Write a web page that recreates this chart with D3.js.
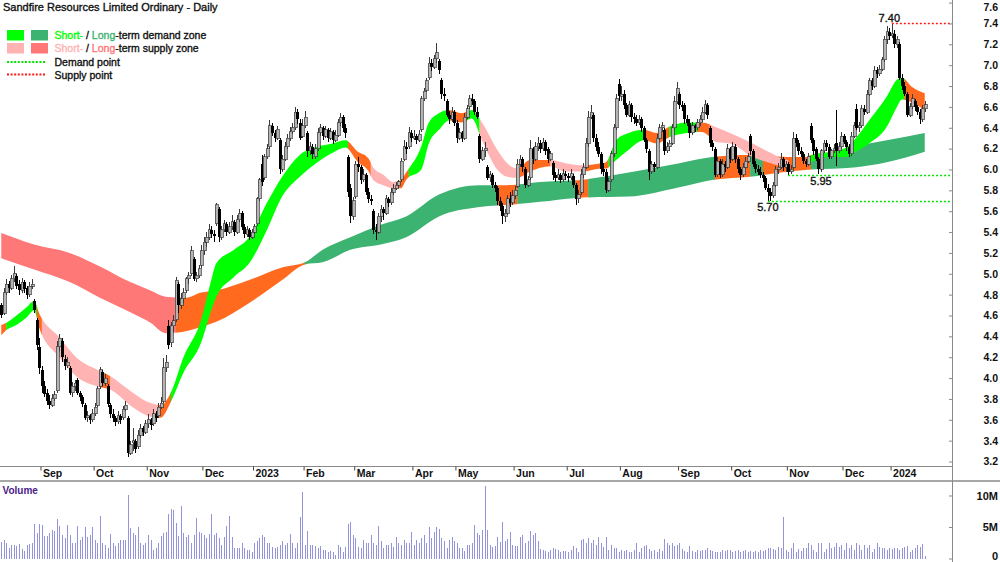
<!DOCTYPE html>
<html><head><meta charset="utf-8">
<script src="https://cdn.jsdelivr.net/npm/d3@7"></script>
<style>
html,body{margin:0;padding:0;background:#fff;}
svg{display:block;font-family:"Liberation Sans",Arial,Helvetica,sans-serif;}
.emb{stroke-width:0.35px;paint-order:stroke;}
</style>
</head><body>
<svg id="chart" width="1000" height="562"></svg>
<script>
// ---------------- DATA ----------------
const title = "Sandfire Resources Limited Ordinary - Daily";
const firstDay = "2022-08-10", lastDay = "2024-01-19";
const holidays = ["2022-09-22","2022-12-26","2022-12-27","2023-01-02","2023-01-26","2023-04-07","2023-04-10","2023-04-25","2023-06-12","2023-12-25","2023-12-26","2024-01-01"];

const open = [
4.70,4.62,4.82,4.90,4.86,4.95,4.98,4.90,4.84,4.92, 4.86,4.80,4.88,4.74,4.56,4.30,4.08,3.92,3.86,3.78,
3.74,3.80,3.88,4.30,4.36,4.18,4.12,4.10,3.86,3.92, 3.98,3.86,3.82,3.74,3.62,3.64,3.60,3.66,3.74,3.92,
4.06,3.95,3.92,3.74,3.66,3.62,3.58,3.64,3.62,3.70, 3.62,3.28,3.38,3.40,3.34,3.45,3.52,3.48,3.56,3.60,
3.56,3.66,3.64,3.72,3.78,4.10,4.50,4.34,4.50,4.56, 4.90,4.70,4.76,4.84,4.95,5.00,5.14,4.95,4.98,5.08,
5.22,5.30,5.35,5.42,5.38,5.48,5.62,5.35,5.42,5.48, 5.40,5.45,5.50,5.40,5.52,5.58,5.45,5.38,5.42,5.35,
5.40,5.48,5.72,6.05,5.92,6.12,6.22,6.42,6.35,6.30, 6.28,6.00,6.10,6.22,6.30,6.36,6.40,6.55,6.45,6.32,
6.42,6.35,6.18,6.22,6.12,6.20,6.35,6.40,6.32,6.38, 6.30,6.36,6.28,6.33,6.45,6.50,6.40,6.12,5.82,5.55,
5.74,6.05,6.02,5.90,5.95,5.78,5.72,5.60,5.42,5.40, 5.55,5.62,5.58,5.72,5.68,5.78,5.82,5.85,5.90,6.10,
6.22,6.22,6.35,6.30,6.32,6.28,6.38,6.68,6.76,6.88, 7.02,6.98,7.06,7.04,6.86,6.72,6.66,6.52,6.48,6.55,
6.45,6.30,6.35,6.30,6.50,6.60,6.68,6.66,6.55,6.32, 6.10,6.18,6.02,5.92,5.95,5.85,5.82,5.70,5.65,5.55,
5.58,5.72,5.68,5.75,5.84,6.05,6.10,6.00,5.85,5.92, 6.20,6.10,6.22,6.25,6.20,6.26,6.20,6.10,6.06,5.95,
5.92,5.95,5.90,5.96,5.94,5.92,5.94,5.85,5.72,5.78, 5.95,6.02,6.25,6.50,6.52,6.30,6.22,6.15,6.00,5.98,
5.80,5.90,6.15,6.40,6.82,6.70,6.72,6.62,6.52,6.62, 6.50,6.48,6.45,6.48,6.40,6.28,6.18,5.98,6.05,6.02,
6.30,6.40,6.38,6.18,6.22,6.25,6.40,6.65,6.72,6.62, 6.62,6.48,6.45,6.35,6.42,6.40,6.45,6.48,6.55,6.62,
6.40,6.25,6.20,5.95,6.08,5.95,6.05,6.02,6.20,6.10, 6.22,6.10,6.00,5.95,6.02,6.08,6.32,6.18,6.05,6.00,
5.98,5.95,5.92,5.82,5.78,5.75,5.85,6.00,6.02,6.10, 6.02,6.05,5.98,6.02,6.30,6.25,6.18,6.15,6.08,6.05,
6.42,6.28,6.20,6.10,6.00,6.18,6.25,6.22,6.12,6.18, 6.25,6.18,6.22,6.32,6.26,6.22,6.15,6.32,6.58,6.40,
6.42,6.58,6.55,6.72,6.85,6.80,6.95,6.92,6.96,7.05, 7.25,7.32,7.28,7.30,7.20,7.20,6.88,6.80,6.72,6.52,
6.60,6.66,6.60,6.55,6.48,6.58];
const high = [
4.72,4.86,4.95,4.93,4.99,5.07,5.00,4.94,4.96,4.94, 4.88,4.92,4.95,4.76,4.58,4.38,4.12,3.97,3.90,3.84,
3.85,3.88,4.36,4.42,4.38,4.22,4.20,4.12,3.96,3.98, 4.00,3.88,3.84,3.76,3.68,3.66,3.70,3.76,3.92,4.11,
4.08,4.04,3.94,3.76,3.70,3.64,3.68,3.66,3.73,3.78, 3.64,3.40,3.52,3.42,3.50,3.56,3.54,3.60,3.66,3.62,
3.70,3.68,3.76,3.82,4.19,4.22,4.56,4.54,4.60,4.97, 4.92,4.82,4.86,4.97,5.02,5.27,5.16,5.02,5.08,5.28,
5.35,5.40,5.48,5.46,5.42,5.68,5.64,5.46,5.52,5.50, 5.50,5.56,5.52,5.56,5.62,5.60,5.48,5.46,5.44,5.43,
5.48,5.74,5.92,6.14,6.15,6.24,6.47,6.45,6.38,6.42, 6.30,6.14,6.26,6.34,6.41,6.45,6.60,6.58,6.48,6.48,
6.56,6.37,6.26,6.24,6.24,6.40,6.44,6.42,6.42,6.40, 6.40,6.38,6.38,6.48,6.54,6.52,6.44,6.14,5.86,5.74,
6.08,6.12,6.04,6.00,5.97,5.82,5.76,5.62,5.48,5.58, 5.66,5.64,5.76,5.74,5.82,5.86,5.88,5.90,6.11,6.28,
6.26,6.41,6.38,6.38,6.34,6.38,6.70,6.78,6.88,7.08, 7.06,7.10,7.21,7.06,6.88,6.78,6.68,6.56,6.60,6.57,
6.47,6.40,6.37,6.54,6.62,6.71,6.72,6.68,6.60,6.34, 6.22,6.26,6.04,5.99,5.97,5.88,5.84,5.74,5.68,5.62,
5.76,5.78,5.80,5.84,6.10,6.14,6.12,6.02,5.94,6.28, 6.22,6.26,6.31,6.28,6.30,6.28,6.22,6.18,6.08,5.98,
6.00,5.97,6.00,5.99,5.97,6.00,5.96,5.87,5.80,6.00, 6.06,6.30,6.56,6.62,6.54,6.34,6.26,6.17,6.06,6.00,
5.92,6.18,6.44,6.72,6.87,6.80,6.76,6.64,6.66,6.64, 6.54,6.52,6.52,6.50,6.42,6.30,6.20,6.08,6.07,6.34,
6.44,6.46,6.40,6.26,6.28,6.44,6.70,6.84,6.74,6.66, 6.64,6.52,6.48,6.46,6.44,6.48,6.52,6.60,6.67,6.64,
6.42,6.28,6.22,6.12,6.10,6.10,6.08,6.24,6.22,6.26, 6.24,6.12,6.02,6.06,6.12,6.16,6.34,6.20,6.08,6.04,
6.02,5.98,5.94,5.86,5.82,5.88,6.03,6.06,6.16,6.12, 6.08,6.07,6.04,6.36,6.34,6.28,6.22,6.17,6.10,6.16,
6.45,6.30,6.22,6.12,6.20,6.28,6.28,6.24,6.20,6.24, 6.57,6.26,6.36,6.34,6.28,6.24,6.36,6.46,6.63,6.46,
6.62,6.62,6.76,6.88,6.88,6.99,6.98,7.00,7.08,7.28, 7.38,7.36,7.40,7.34,7.28,7.22,6.92,6.84,6.74,6.64,
6.72,6.68,6.62,6.58,6.62,6.66];
const low = [
4.58,4.60,4.80,4.82,4.84,4.92,4.85,4.80,4.82,4.82, 4.76,4.78,4.85,4.62,4.27,4.04,3.86,3.82,3.74,3.70,
3.72,3.78,3.86,4.26,4.15,4.08,4.10,3.84,3.82,3.88, 3.84,3.78,3.72,3.60,3.58,3.56,3.58,3.64,3.72,3.90,
3.92,3.92,3.72,3.62,3.58,3.54,3.56,3.56,3.60,3.68, 3.24,3.26,3.30,3.28,3.32,3.43,3.44,3.46,3.52,3.50,
3.54,3.58,3.62,3.70,3.76,4.06,4.28,4.30,4.44,4.54, 4.62,4.66,4.72,4.82,4.90,4.98,4.93,4.92,4.96,5.06,
5.18,5.26,5.32,5.34,5.30,5.46,5.30,5.32,5.40,5.36, 5.38,5.42,5.36,5.38,5.50,5.42,5.34,5.35,5.32,5.33,
5.38,5.46,5.70,5.84,5.90,6.10,6.20,6.32,6.26,6.28, 5.96,5.98,6.08,6.20,6.27,6.34,6.38,6.44,6.28,6.30,
6.40,6.12,6.14,6.10,6.10,6.18,6.32,6.28,6.30,6.26, 6.28,6.24,6.26,6.31,6.42,6.36,6.30,5.74,5.49,5.52,
5.72,5.98,5.86,5.88,5.76,5.68,5.66,5.38,5.32,5.38, 5.50,5.52,5.56,5.64,5.66,5.76,5.80,5.82,5.88,6.08,
6.15,6.20,6.26,6.28,6.24,6.26,6.36,6.66,6.74,6.86, 6.94,6.96,7.02,6.92,6.68,6.66,6.50,6.44,6.46,6.42,
6.25,6.28,6.26,6.28,6.48,6.58,6.62,6.52,6.48,6.06, 6.08,6.12,5.90,5.88,5.82,5.78,5.66,5.60,5.48,5.50,
5.56,5.64,5.66,5.72,5.82,6.02,5.98,5.82,5.83,5.90, 6.05,6.08,6.18,6.16,6.18,6.14,6.06,6.08,5.90,5.88,
5.90,5.87,5.88,5.90,5.88,5.90,5.82,5.66,5.68,5.76, 5.92,6.00,6.22,6.48,6.26,6.18,6.12,5.96,5.94,5.77,
5.78,5.88,6.12,6.38,6.66,6.66,6.58,6.50,6.50,6.46, 6.44,6.42,6.43,6.36,6.26,6.16,5.90,5.96,5.98,6.00,
6.28,6.36,6.14,6.16,6.18,6.23,6.38,6.63,6.58,6.56, 6.44,6.42,6.30,6.33,6.36,6.38,6.42,6.46,6.53,6.48,
6.22,6.18,5.93,5.93,5.92,5.93,5.98,6.00,6.06,6.08, 6.06,5.97,5.90,5.93,6.00,6.06,6.14,6.02,5.97,5.95,
5.92,5.88,5.80,5.70,5.70,5.73,5.83,5.96,6.00,5.99, 5.98,5.95,5.96,6.00,6.22,6.14,6.12,6.05,6.02,6.03,
6.25,6.14,6.08,5.96,5.98,6.16,6.18,6.10,6.10,6.16, 6.03,6.16,6.20,6.24,6.18,6.12,6.13,6.30,6.38,6.36,
6.40,6.52,6.53,6.70,6.76,6.78,6.88,6.90,6.94,7.03, 7.20,7.24,7.26,7.16,7.16,6.86,6.76,6.70,6.50,6.50,
6.58,6.56,6.52,6.44,6.46,6.55];
const close = [
4.60,4.82,4.90,4.86,4.95,5.00,4.88,4.84,4.92,4.85, 4.80,4.88,4.90,4.65,4.32,4.10,3.92,3.85,3.78,3.74,
3.80,3.84,4.30,4.38,4.20,4.12,4.15,3.86,3.92,3.95, 3.86,3.82,3.75,3.62,3.64,3.60,3.66,3.72,3.90,4.08,
3.95,4.00,3.75,3.66,3.62,3.58,3.64,3.60,3.70,3.74, 3.28,3.36,3.40,3.32,3.45,3.52,3.48,3.56,3.60,3.55,
3.66,3.62,3.72,3.76,4.10,4.15,4.32,4.50,4.55,4.94, 4.70,4.76,4.82,4.95,4.98,5.22,4.95,4.98,5.05,5.22,
5.30,5.35,5.42,5.38,5.36,5.66,5.35,5.42,5.48,5.40, 5.45,5.50,5.40,5.52,5.58,5.45,5.38,5.42,5.35,5.40,
5.45,5.72,5.90,5.88,6.12,6.20,6.42,6.35,6.30,6.38, 6.00,6.10,6.22,6.30,6.36,6.40,6.55,6.48,6.30,6.42,
6.50,6.18,6.22,6.15,6.20,6.35,6.40,6.32,6.38,6.30, 6.36,6.28,6.33,6.45,6.50,6.40,6.35,5.78,5.55,5.70,
6.05,6.02,5.90,5.95,5.78,5.72,5.70,5.42,5.40,5.55, 5.62,5.58,5.72,5.68,5.78,5.82,5.85,5.88,6.08,6.22,
6.20,6.35,6.30,6.32,6.28,6.34,6.68,6.75,6.85,7.02, 6.98,7.06,7.12,6.95,6.72,6.70,6.52,6.48,6.55,6.45,
6.30,6.35,6.30,6.50,6.58,6.68,6.66,6.55,6.50,6.10, 6.18,6.20,5.92,5.95,5.85,5.82,5.70,5.65,5.55,5.58,
5.72,5.68,5.75,5.80,6.05,6.10,6.02,5.85,5.90,6.20, 6.10,6.22,6.25,6.20,6.26,6.18,6.10,6.15,5.95,5.92,
5.95,5.90,5.96,5.94,5.92,5.96,5.85,5.72,5.76,5.95, 6.02,6.25,6.50,6.55,6.30,6.22,6.15,6.00,5.98,5.80,
5.88,6.15,6.40,6.68,6.70,6.72,6.62,6.52,6.62,6.50, 6.48,6.45,6.48,6.40,6.28,6.20,5.98,6.05,6.02,6.30,
6.40,6.42,6.18,6.22,6.25,6.40,6.65,6.78,6.62,6.60, 6.48,6.45,6.35,6.42,6.40,6.45,6.48,6.55,6.62,6.52,
6.25,6.22,5.95,6.08,5.95,6.05,6.02,6.20,6.10,6.22, 6.10,6.00,5.95,6.02,6.08,6.12,6.18,6.05,6.00,5.98,
5.95,5.92,5.82,5.78,5.75,5.85,6.00,6.02,6.10,6.02, 6.05,5.98,6.00,6.30,6.25,6.18,6.15,6.08,6.05,6.12,
6.28,6.18,6.10,6.00,6.18,6.25,6.22,6.12,6.18,6.20, 6.18,6.22,6.32,6.26,6.22,6.15,6.32,6.42,6.40,6.42,
6.58,6.55,6.72,6.85,6.80,6.95,6.92,6.96,7.05,7.25, 7.32,7.28,7.30,7.20,7.25,6.88,6.80,6.72,6.52,6.60,
6.68,6.60,6.55,6.48,6.58,6.62];
// volume in millions of shares
const volume = [
2.6,3.0,2.4,1.6,2.1,2.2,2.0,2.3,1.5,1.2, 2.1,2.3,2.5,5.4,4.1,5.5,5.3,3.6,3.5,4.1,
4.5,4.3,6.3,5.1,3.7,3.2,5.3,3.8,2.4,2.4, 5.2,2.9,3.4,5.0,3.4,3.7,5.0,2.9,2.5,6.8,
2.5,2.1,1.6,3.9,2.4,2.0,2.4,2.9,2.9,2.9, 10.0,4.9,4.1,3.8,5.0,2.5,2.1,2.4,3.7,2.9,
1.3,1.7,2.4,3.5,4.1,4.2,7.1,7.8,7.7,5.6, 3.5,8.3,4.1,3.4,3.7,2.4,3.7,6.5,4.2,4.0,
3.7,3.3,3.9,7.1,3.7,4.0,3.3,2.2,3.4,5.2, 6.7,3.4,1.7,1.7,1.7,2.5,1.6,1.4,1.3,1.1,
2.4,2.8,3.2,3.7,3.4,2.4,2.4,1.8,1.7,1.8, 2.1,2.8,2.1,2.4,3.9,2.5,1.7,2.4,6.6,10.6,
2.1,4.3,2.2,2.1,2.0,1.6,2.0,1.3,1.3,1.1, 1.2,1.1,0.6,2.1,1.8,1.1,1.8,5.4,5.8,3.7,
3.2,1.8,1.6,3.0,2.5,2.4,3.8,2.5,2.2,5.1, 2.7,1.6,2.1,2.1,2.4,1.8,3.4,2.5,2.1,2.9,
2.5,2.4,4.2,2.1,2.9,2.5,3.3,3.7,2.5,5.0, 3.2,4.2,5.0,4.7,3.2,2.8,1.6,2.9,3.4,2.8,
2.4,1.7,1.6,1.2,2.2,2.1,2.5,5.3,4.0,3.7, 4.6,11.5,4.6,2.2,1.8,2.0,3.4,2.6,5.8,2.8,
3.1,4.2,2.2,2.0,2.0,3.4,3.8,2.4,2.8,4.3, 3.7,4.0,2.8,1.5,1.3,1.2,1.1,1.4,1.6,1.5,
1.3,1.1,1.2,1.2,1.1,1.3,2.0,1.7,1.1,2.9, 3.1,2.5,3.3,2.5,2.9,2.2,3.4,2.5,1.8,3.4,
1.3,2.1,1.7,1.7,1.1,1.3,1.2,1.3,1.1,1.1, 1.3,2.4,1.1,1.6,2.0,2.2,1.5,1.2,1.3,1.1,
1.5,1.2,3.1,2.4,2.2,2.5,2.0,2.2,2.4,1.5, 1.2,1.0,2.0,1.2,1.1,1.3,1.2,1.3,1.3,1.6,
1.3,1.2,1.1,1.0,1.1,1.3,1.2,1.3,1.3,1.1, 1.2,1.3,1.1,1.2,1.3,1.1,1.2,1.1,1.2,1.1,
1.3,1.2,1.3,1.6,1.7,1.5,1.3,1.8,1.6,6.6, 1.3,1.1,1.6,2.4,1.1,1.5,1.2,1.6,1.7,2.4,
2.2,1.3,1.1,2.5,2.4,1.1,1.5,2.4,1.6,1.8, 2.5,1.8,2.2,1.3,2.5,1.6,2.1,1.3,2.4,2.1,
1.3,2.2,1.7,2.1,1.1,1.5,2.5,1.8,1.7,1.6, 1.3,1.7,1.5,1.6,1.6,1.3,1.7,1.8,2.0,1.1,
1.3,1.6,2.1,1.8,2.3,0.4];

// Long-term zone (sampled, trading-day index) and its colour states
const longIdx = [0,13,27,39,51,59,65,73,79,85,98,111,120,127,138,150,160,173,189,200,213,229,248,268,281,296,311,320,337,350,365];
const longHi  = [5.39,5.28,5.20,5.07,4.92,4.84,4.78,4.77,4.82,4.84,4.94,5.06,5.11,5.23,5.35,5.47,5.55,5.76,5.85,5.85,5.88,5.90,5.97,6.06,6.12,6.14,6.12,6.12,6.22,6.28,6.35];
const longLo  = [5.15,5.04,4.92,4.77,4.63,4.53,4.43,4.45,4.49,4.54,4.72,4.94,5.09,5.11,5.23,5.28,5.35,5.55,5.64,5.66,5.69,5.73,5.74,5.83,5.90,5.93,5.98,6.00,6.02,6.07,6.17];
const longSegStart = [0,69,120,196,204,227,232,282,296,301,320];
const longSegState = ["supply","neutral","demand","neutral","demand","neutral","demand","neutral","demand","neutral","demand"];

// Short-term zone
const shortIdx = [0,2,6,10,13,15,23,30,38,43,52,59,63,67,72,79,83,85,92,98,105,111,118,125,131,136,141,145,147,151,155,158,160,166,169,173,177,182,186,190,196,200,204,209,217,223,230,237,239,243,248,254,259,264,271,277,283,288,297,304,311,316,320,328,334,337,343,350,354,356,360,365];
const shortHi = [4.51,4.53,4.60,4.68,4.74,4.62,4.39,4.19,4.08,4.02,3.86,3.76,3.74,3.86,4.20,4.56,4.94,5.10,5.23,5.35,5.68,5.93,6.14,6.22,6.25,6.28,6.17,6.11,6.02,5.95,5.88,5.90,5.97,6.22,6.45,6.54,6.57,6.54,6.57,6.45,6.19,6.06,6.01,6.09,6.09,6.06,6.04,6.06,6.07,6.28,6.35,6.38,6.35,6.41,6.45,6.45,6.40,6.35,6.25,6.16,6.09,6.09,6.14,6.17,6.21,6.28,6.47,6.70,6.86,6.88,6.79,6.73];
const shortLo = [4.41,4.46,4.51,4.58,4.65,4.48,4.20,4.01,3.92,3.89,3.72,3.63,3.62,3.77,4.05,4.34,4.65,4.78,4.97,5.10,5.42,5.74,5.93,6.07,6.16,6.21,6.07,5.99,5.90,5.85,5.82,5.82,5.90,6.00,6.25,6.38,6.47,6.45,6.49,6.28,6.00,5.93,5.92,5.98,6.03,5.98,5.98,6.01,6.01,6.09,6.19,6.28,6.25,6.31,6.35,6.36,6.26,6.25,6.12,6.06,6.02,6.01,6.07,6.12,6.12,6.16,6.25,6.41,6.60,6.67,6.64,6.57];
const shortSegStart = [0,2,14,16,39,43,62,67,137,146,157,161,177,184,189,205,217,231,240,254,264,275,280,311,320,357];
const shortSegState = ["neutral","demand","neutral","supply","neutral","supply","neutral","demand","neutral","supply","neutral","demand","neutral","demand","supply","neutral","supply","neutral","demand","neutral","demand","neutral","supply","neutral","demand","neutral"];

// Demand / supply points
const pointLevel = [7.40, 5.95, 5.70];
const pointType  = ["supply","demand","demand"];
const pointStart = [352, 311, 303];
const pointLabelAt = [351, 324, 303];

const priceTicks = [3.2,3.4,3.6,3.8,4.0,4.2,4.4,4.6,4.8,5.0,5.2,5.4,5.6,5.8,6.0,6.2,6.4,6.6,6.8,7.0,7.2,7.4,7.6];
const volumeTicks = [0,5,10];

// ---------------- STYLE ----------------
const C = {
  shortDemand:"#00ff00", longDemand:"#3cb371",
  shortSupply:"#ffb3b3", longSupply:"#ff7878",
  neutral:"#ff6a1e", demandPt:"#00e600", supplyPt:"#ff1a1a",
  axis:"#8a8a8a", vol:"#9494dc", volLabel:"#4b1a8a",
  up:"#b4b4b4", upStroke:"#3a3a3a", down:"#000000"
};

// ---------------- BUILD ----------------
const parse = d3.timeParse("%Y-%m-%d"), fmt = d3.timeFormat("%Y-%m-%d");
const dates = d3.timeDay.range(parse(firstDay), d3.timeDay.offset(parse(lastDay),1))
  .filter(d => d.getDay()>0 && d.getDay()<6 && !holidays.includes(fmt(d)));
const N = dates.length;

const svg = d3.select("#chart");
const W = 1000, H = 562, axisX = 952, priceBottom = 466.5, volTop = 481;

const x = d3.scaleLinear().domain([0, N]).range([0, 926]);
const cx = i => x(i + 0.5);
const y = d3.scaleLinear().domain([3.157, 7.625]).range([466, 0]);
const yv = d3.scaleLinear().domain([0, 12.3]).range([558.5, volTop]);

const defs = svg.append("defs");
defs.append("clipPath").attr("id","priceClip").append("rect")
  .attr("x",0).attr("y",0).attr("width",axisX).attr("height",priceBottom);

const pricePanel = svg.append("g").attr("clip-path","url(#priceClip)");

function drawZone(idx, hi, lo, segStart, segState, colors, name){
  const pts = idx.map((d,k)=>({i:d, hi:hi[k], lo:lo[k]}));
  const area = d3.area().x(d=>cx(d.i)).y0(d=>y(d.lo)).y1(d=>y(d.hi)).curve(d3.curveMonotoneX);
  segStart.forEach((s,k)=>{
    const e = k < segStart.length-1 ? segStart[k+1] : N-1;
    const x0 = k===0 ? 0 : cx(s);
    const x1 = k===segStart.length-1 ? axisX : cx(e);
    const id = name + "Clip" + k;
    defs.append("clipPath").attr("id", id).append("rect")
      .attr("x", x0).attr("y", 0).attr("width", Math.max(0, x1-x0)+0.3).attr("height", priceBottom);
    pricePanel.append("path").datum(pts)
      .attr("clip-path","url(#"+id+")")
      .attr("fill", colors[segState[k]])
      .attr("d", area);
  });
}
drawZone(longIdx, longHi, longLo, longSegStart, longSegState,
  {demand:C.longDemand, supply:C.longSupply, neutral:C.neutral}, "long");
drawZone(shortIdx, shortHi, shortLo, shortSegStart, shortSegState,
  {demand:C.shortDemand, supply:C.shortSupply, neutral:C.neutral}, "short");

// demand / supply point lines
pointLevel.forEach((lv,k)=>{
  const col = pointType[k]==="supply" ? C.supplyPt : C.demandPt;
  const yy = Math.round(y(lv))+0.5;
  svg.append("line")
    .attr("x1", cx(pointStart[k])).attr("x2", axisX)
    .attr("y1", yy).attr("y2", yy)
    .attr("stroke", col).attr("stroke-width",1.3).attr("stroke-dasharray","2,2");
  svg.append("text").attr("class","emb")
    .attr("x", cx(pointLabelAt[k]))
    .attr("y", pointType[k]==="supply" ? y(lv)-1.5 : y(lv)+10)
    .attr("text-anchor","middle").attr("font-size","11px").attr("fill","#111").attr("stroke","#111")
    .text(lv.toFixed(2));
});

// candles
const candles = pricePanel.append("g").attr("shape-rendering","crispEdges");
d3.range(N).forEach(i=>{
  const o=open[i], c=close[i], up = c>=o;
  const xc = Math.round(cx(i));
  candles.append("line")
    .attr("x1", xc+0.5).attr("x2", xc+0.5)
    .attr("y1", y(high[i])).attr("y2", y(low[i]))
    .attr("stroke", up ? C.upStroke : C.down).attr("stroke-width",1);
  const top = y(Math.max(o,c)), bot = y(Math.min(o,c));
  candles.append("rect")
    .attr("x", xc-1).attr("width", 3)
    .attr("y", top).attr("height", Math.max(1, bot-top))
    .attr("fill", up ? C.up : C.down)
    .attr("stroke", up ? C.upStroke : C.down).attr("stroke-width", up?0.7:0);
});

// volume bars
svg.append("g").attr("shape-rendering","crispEdges").selectAll("rect").data(volume).join("rect")
  .attr("x",(d,i)=>Math.round(cx(i))).attr("width",1)
  .attr("y",d=>yv(d)).attr("height",d=>yv(0)-yv(d))
  .attr("fill",C.vol);

// frame lines
svg.append("line").attr("x1",0).attr("x2",axisX).attr("y1",priceBottom).attr("y2",priceBottom)
  .attr("stroke",C.axis).attr("stroke-width",1);
svg.append("line").attr("x1",0).attr("x2",W).attr("y1",volTop).attr("y2",volTop)
  .attr("stroke",C.axis).attr("stroke-width",1.5);
svg.append("line").attr("x1",axisX+0.5).attr("x2",axisX+0.5).attr("y1",0).attr("y2",H)
  .attr("stroke",C.axis).attr("stroke-width",1);

// price axis
const pa = svg.append("g").attr("transform",`translate(${axisX},0)`)
  .call(d3.axisLeft(y).tickValues(priceTicks).tickFormat(d3.format(".1f")).tickSize(3));
pa.select(".domain").remove();
pa.selectAll("line").attr("stroke",C.axis);
pa.selectAll("text").attr("x",46).attr("text-anchor","end")
  .attr("font-size","10.5px").attr("font-weight","bold").attr("fill","#111")
  .attr("font-family","Liberation Sans, Arial, sans-serif")
  .attr("dy", d => y(d) < 6 ? "0.75em" : "0.32em");

// volume axis
const va = svg.append("g").attr("transform",`translate(${axisX},0)`)
  .call(d3.axisLeft(yv).tickValues(volumeTicks).tickFormat(d=>d? d+"M":"0").tickSize(3));
va.select(".domain").remove();
va.selectAll("line").attr("stroke",C.axis);
va.selectAll("text").attr("x",46).attr("text-anchor","end")
  .attr("font-size","11px").attr("font-weight","bold").attr("fill","#111")
  .attr("font-family","Liberation Sans, Arial, sans-serif")
  .attr("dy", d => d===0 ? "0.05em" : "0.32em");

// date axis
const monthStarts = d3.range(1,N).filter(i=>dates[i].getMonth()!==dates[i-1].getMonth());
const monthFmt = d3.timeFormat("%b"), yearFmt = d3.timeFormat("%Y");
const da = svg.append("g").attr("transform",`translate(0,${priceBottom})`)
  .call(d3.axisBottom(x).tickValues(monthStarts).tickSize(4)
    .tickFormat(i=> dates[i].getMonth()===0 ? yearFmt(dates[i]) : monthFmt(dates[i])));
da.select(".domain").remove();
da.selectAll("line").attr("stroke","#444");
da.selectAll("text").attr("x",2).attr("y",3).attr("text-anchor","start")
  .attr("font-size","10.5px").attr("font-weight","bold").attr("fill","#111")
  .attr("font-family","Liberation Sans, Arial, sans-serif");

// labels
svg.append("text").attr("class","emb").attr("x",3).attr("y",11).attr("font-size","11px")
  .attr("fill","#111").attr("stroke","#111").text(title);
svg.append("text").attr("x",2.5).attr("y",494).attr("font-size","10px").attr("font-weight","bold")
  .attr("fill",C.volLabel).text("Volume");

// legend
const lg = svg.append("g");
const sw = [[C.shortDemand,C.longDemand,30],[C.shortSupply,C.longSupply,43]];
sw.forEach(r=>{
  lg.append("rect").attr("x",7).attr("y",r[2]).attr("width",17).attr("height",10.5).attr("fill",r[0]);
  lg.append("rect").attr("x",31).attr("y",r[2]).attr("width",17).attr("height",10.5).attr("fill",r[1]);
});
const legendRows = [
  {yy:39.3, parts:[["Short-",C.shortDemand],[" / ","#111"],["Long",C.longDemand],["-term demand zone","#111"]]},
  {yy:52.3, parts:[["Short-",C.shortSupply],[" / ","#111"],["Long",C.longSupply],["-term supply zone","#111"]]},
  {yy:66.3, parts:[["Demand point","#111"]]},
  {yy:78.6, parts:[["Supply point","#111"]]}
];
legendRows.forEach(r=>{
  const t = lg.append("text").attr("class","emb").attr("x",54.5).attr("y",r.yy).attr("font-size","10.5px");
  r.parts.forEach(p=>t.append("tspan").attr("fill",p[1]).attr("stroke",p[1]).text(p[0]));
});
lg.append("line").attr("x1",7).attr("x2",46).attr("y1",62).attr("y2",62)
  .attr("stroke",C.demandPt).attr("stroke-width",2).attr("stroke-dasharray","2,1.6");
lg.append("line").attr("x1",7).attr("x2",46).attr("y1",74.5).attr("y2",74.5)
  .attr("stroke",C.supplyPt).attr("stroke-width",2).attr("stroke-dasharray","2,1.6");
</script>
</body></html>
